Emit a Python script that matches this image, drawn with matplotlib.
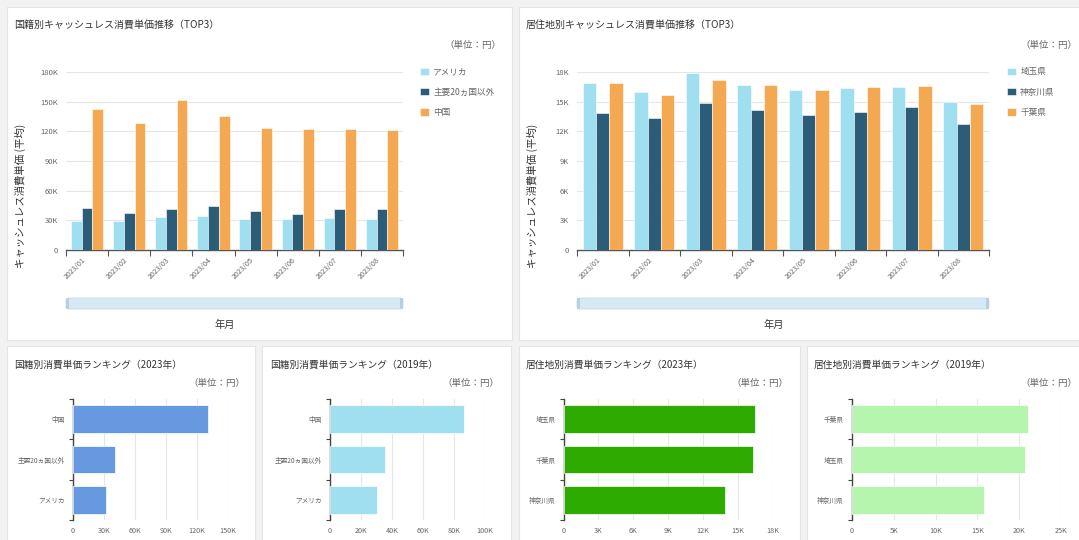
import matplotlib
matplotlib.use("Agg")
import matplotlib.pyplot as plt
from matplotlib.patches import Rectangle, FancyBboxPatch
from matplotlib.ticker import FixedLocator, FuncFormatter
import numpy as np

plt.rcParams['font.family'] = ['Noto Sans CJK JP', 'DejaVu Sans']

W, H = 1079, 540

# ---- data ----
months = ["2023/01", "2023/02", "2023/03", "2023/04",
          "2023/05", "2023/06", "2023/07", "2023/08"]

nat_names = ["アメリカ", "主要20ヵ国以外", "中国"]
nat_usa   = [28900, 29600, 33000, 34300, 31300, 31300, 32300, 31300]
nat_other = [42100, 37000, 41400, 44400, 39700, 36300, 41700, 41000]
nat_china = [142300, 128500, 151700, 135300, 123800, 122500, 122500, 121800]

res_names    = ["埼玉県", "神奈川県", "千葉県"]
res_saitama  = [16860, 15980, 17930, 16660, 16180, 16420, 16450, 14940]
res_kanagawa = [13900, 13360, 14870, 14200, 13630, 13960, 14430, 12790]
res_chiba    = [16920, 15680, 17160, 16660, 16150, 16520, 16620, 14770]

rank_nat_2023_names = ["中国", "主要20ヵ国以外", "アメリカ"]
rank_nat_2023_vals  = [131200, 41200, 32100]
rank_nat_2019_names = ["中国", "主要20ヵ国以外", "アメリカ"]
rank_nat_2019_vals  = [86900, 35400, 30100]
rank_res_2023_names = ["埼玉県", "千葉県", "神奈川県"]
rank_res_2023_vals  = [16480, 16360, 13950]
rank_res_2019_names = ["千葉県", "埼玉県", "神奈川県"]
rank_res_2019_vals  = [21100, 20700, 15760]

C_LIGHT  = "#a0dff0"
C_DARK   = "#2b5c78"
C_ORANGE = "#f5a852"
TXT      = "#333333"
TICK     = "#666666"
GRID     = "#e6e6e6"


def rect(x0, y0, x1, y1):
    # pixel box -> figure fraction
    return [x0 / W, 1 - y1 / H, (x1 - x0) / W, (y1 - y0) / H]


def kfmt(v, _):
    return "0" if v == 0 else f"{int(round(v / 1000))}K"


fig = plt.figure(figsize=(W / 100, H / 100), dpi=100)
fig.patch.set_facecolor("#f2f2f2")

# cards (behind the axes)
for (x0, y0, x1, y1) in [(7, 7, 512, 340), (519, 7, 1090, 340),
                         (7, 346, 255, 550), (262, 346, 511, 550),
                         (519, 346, 800, 550), (807, 346, 1090, 550)]:
    fig.patches.append(Rectangle((x0 / W, 1 - y1 / H), (x1 - x0) / W, (y1 - y0) / H,
                                 transform=fig.transFigure, facecolor="white",
                                 edgecolor="#e4e4e4", linewidth=0.8, zorder=-10))


def fig_text(x, y, s, **kw):
    fig.text(x / W, 1 - y / H, s, **kw)


def column_chart(box, series, names, ymax, ystep, title, tx, unit_x,
                 legend_x, ylabel_x, xlabel_x, bar_w):
    x0, y0, x1, y1 = box
    ax = fig.add_axes(rect(*box))
    ax.set_facecolor("none")
    x = np.arange(len(months))
    colors = [C_LIGHT, C_DARK, C_ORANGE]
    handles = []
    for k, (vals, name) in enumerate(zip(series, names)):
        b = ax.bar(x + (k - 1) * bar_w, vals, width=bar_w, color=colors[k],
                   edgecolor="white", linewidth=0.4, label=name, zorder=3)
        handles.append(b)
    ax.set_xlim(-0.5, len(months) - 0.5)
    ax.set_ylim(0, ymax)
    ax.set_yticks(np.arange(0, ymax + 1, ystep))
    ax.yaxis.set_major_formatter(FuncFormatter(kfmt))
    ax.grid(axis="y", color=GRID, linewidth=0.8, zorder=0)
    for s in ["top", "right", "left"]:
        ax.spines[s].set_visible(False)
    ax.spines["bottom"].set_color("#555555")
    ax.spines["bottom"].set_linewidth(1.0)
    ax.set_xticks(x)
    ax.set_xticklabels(months, rotation=45, ha="right", fontsize=5.2, color=TICK)
    ax.xaxis.set_minor_locator(FixedLocator(np.arange(-0.5, len(months), 1.0)))
    ax.tick_params(axis="x", which="major", length=0, pad=4)
    ax.tick_params(axis="x", which="minor", length=4, color="#555555", width=0.8)
    ax.tick_params(axis="y", length=0, labelsize=5.5, labelcolor=TICK, pad=6)
    ax.set_ylabel("キャッシュレス消費単価 (平均)", fontsize=7.5, color=TXT)
    ax.yaxis.set_label_coords((ylabel_x - x0) / (x1 - x0), (y1 - 196) / (y1 - y0))

    fig_text(tx, 26, title, fontsize=7.2, color=TXT, va="center")
    fig_text(unit_x, 45, "（単位：円）", fontsize=6.8, color=TICK, va="center", ha="right")
    fig_text(xlabel_x, 325, "年月", fontsize=7.4, color=TXT, va="center", ha="center")
    fig.legend(handles=handles, loc="upper left",
               bbox_to_anchor=(legend_x / W, 1 - 63 / H), frameon=False,
               fontsize=6.2, handlelength=1.0, handleheight=1.0,
               handletextpad=0.5, labelspacing=1.3, borderpad=0,
               labelcolor=TICK)

    # range slider under the chart
    sb = FancyBboxPatch((x0 / W, 1 - 309 / H), (x1 - x0) / W, 11 / H,
                        boxstyle="round,pad=0,rounding_size=0.004",
                        transform=fig.transFigure, facecolor="#d5eaf6",
                        edgecolor="#c4dcea", linewidth=0.6)
    fig.patches.append(sb)
    for hx in (x0, x1 - 3):
        fig.patches.append(Rectangle((hx / W, 1 - 309 / H), 3 / W, 11 / H,
                                     transform=fig.transFigure,
                                     facecolor="#b9cfdd", edgecolor="none"))
    return ax


column_chart((66, 72, 403, 250), [nat_usa, nat_other, nat_china], nat_names,
             180000, 30000, "国籍別キャッシュレス消費単価推移（TOP3）", 14, 501,
             416, 26, 225, 0.255)
column_chart((577, 72, 989, 250), [res_saitama, res_kanagawa, res_chiba], res_names,
             18000, 3000, "居住地別キャッシュレス消費単価推移（TOP3）", 526, 1077,
             1003, 538, 774, 0.26)


def bar_chart(box, names, vals, color, xmax, xstep, title, tx, unit_x):
    ax = fig.add_axes(rect(*box))
    ax.set_facecolor("none")
    y = np.arange(len(names))
    ax.barh(y, vals, height=0.69, color=color, edgecolor="white",
            linewidth=0.5, zorder=3)
    ax.set_ylim(len(names) - 0.5, -0.5)
    ax.set_xlim(0, xmax)
    ax.set_xticks(np.arange(0, xmax + 1, xstep))
    ax.xaxis.set_major_formatter(FuncFormatter(kfmt))
    ax.grid(axis="x", color=GRID, linewidth=0.8, zorder=0)
    for s in ["top", "right", "bottom"]:
        ax.spines[s].set_visible(False)
    ax.spines["left"].set_color("#444444")
    ax.spines["left"].set_linewidth(1.0)
    ax.set_yticks(y)
    ax.set_yticklabels(names, fontsize=4.8, color=TICK)
    ax.yaxis.set_minor_locator(FixedLocator(np.arange(-0.5, len(names), 1.0)))
    ax.tick_params(axis="y", which="major", length=0, pad=6)
    ax.tick_params(axis="y", which="minor", length=3, color="#444444", width=0.8)
    ax.tick_params(axis="x", length=0, labelsize=5.2, labelcolor=TICK, pad=5)
    fig_text(tx, 365, title, fontsize=7, color=TXT, va="center")
    fig_text(unit_x, 383, "（単位：円）", fontsize=6.8, color=TICK, va="center", ha="right")
    return ax


bar_chart((73, 399, 227.5, 520), rank_nat_2023_names, rank_nat_2023_vals,
          "#6699e0", 150000, 30000, "国籍別消費単価ランキング（2023年）", 14, 245)
bar_chart((330, 399, 484.5, 520), rank_nat_2019_names, rank_nat_2019_vals,
          C_LIGHT, 100000, 20000, "国籍別消費単価ランキング（2019年）", 270, 499)
bar_chart((563.5, 399, 772.5, 520), rank_res_2023_names, rank_res_2023_vals,
          "#2eab00", 18000, 3000, "居住地別消費単価ランキング（2023年）", 526, 788)
bar_chart((852, 399, 1061, 520), rank_res_2019_names, rank_res_2019_vals,
          "#b6f5ae", 25000, 5000, "居住地別消費単価ランキング（2019年）", 814, 1077)

fig.savefig("out.png", dpi=100, facecolor=fig.get_facecolor())
